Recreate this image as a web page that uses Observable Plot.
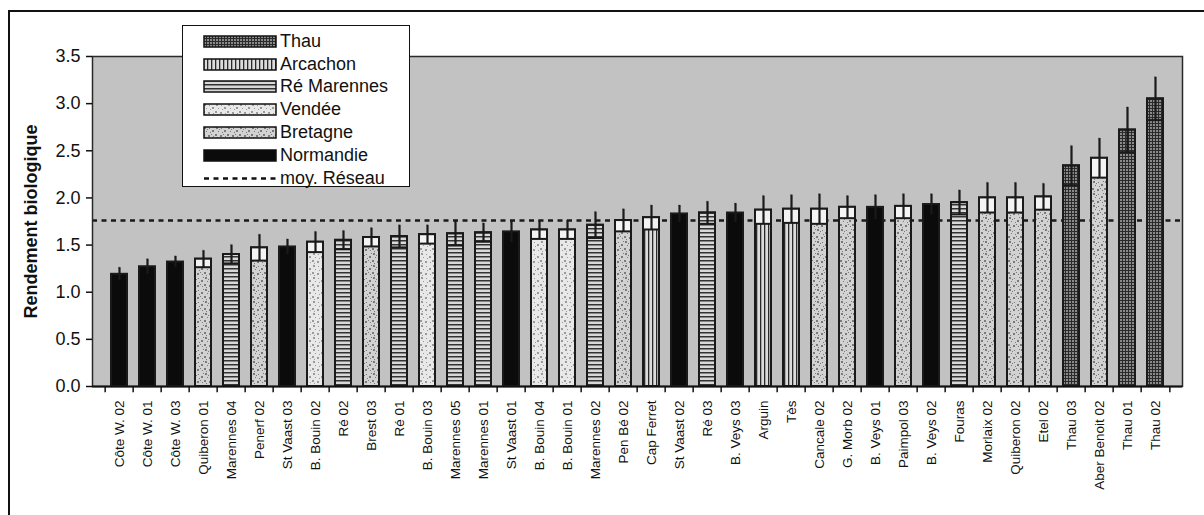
<!DOCTYPE html>
<html>
<head>
<meta charset="utf-8">
<script src="https://cdn.jsdelivr.net/npm/d3@7"></script>
<script src="https://cdn.jsdelivr.net/npm/@observablehq/plot@0.6"></script>
<style>
  html, body { margin: 0; padding: 0; background: #fff; overflow: hidden; }
  body { width: 1204px; height: 515px; position: relative; font-family: "Liberation Sans", Arial, sans-serif; }
  #frame { position: absolute; left: 8px; top: 10px; width: 1210px; height: 520px; border-left: 2px solid #111; border-top: 2px solid #111; box-sizing: border-box; pointer-events: none; }
  #chart { position: absolute; left: 0; top: 0; }
  #legend { position: absolute; left: 182px; top: 25px; width: 228px; height: 162px; box-sizing: border-box; background: #fff; border: 1.5px solid #111; padding: 4px 0 0 20px; }
  .lrow { display: flex; align-items: center; height: 22.8px; font-size: 18px; color: #111; white-space: nowrap; }
  .lrow svg { margin-right: 3px; flex: none; }
</style>
</head>
<body>
<div id="chart"></div>
<div id="legend"></div>
<div id="frame"></div>
<script>
const categories = ["Côte W. 02","Côte W. 01","Côte W. 03","Quiberon 01","Marennes 04","Penerf 02","St Vaast 03","B. Bouin 02","Ré 02","Brest 03","Ré 01","B. Bouin 03","Marennes 05","Marennes 01","St Vaast 01","B. Bouin 04","B. Bouin 01","Marennes 02","Pen Bé 02","Cap Ferret","St Vaast 02","Ré 03","B. Veys 03","Arguin","Tès","Cancale 02","G. Morb 02","B. Veys 01","Paimpol 03","B. Veys 02","Fouras","Morlaix 02","Quiberon 02","Etel 02","Thau 03","Aber Benoit 02","Thau 01","Thau 02"];
const regions = ["Normandie","Normandie","Normandie","Bretagne","Ré Marennes","Bretagne","Normandie","Vendée","Ré Marennes","Bretagne","Ré Marennes","Vendée","Ré Marennes","Ré Marennes","Normandie","Vendée","Vendée","Ré Marennes","Bretagne","Arcachon","Normandie","Ré Marennes","Normandie","Arcachon","Arcachon","Bretagne","Bretagne","Normandie","Bretagne","Normandie","Ré Marennes","Bretagne","Bretagne","Bretagne","Thau","Bretagne","Thau","Thau"];
const values = [1.19,1.27,1.32,1.35,1.40,1.47,1.48,1.53,1.55,1.58,1.59,1.61,1.62,1.63,1.64,1.66,1.66,1.71,1.76,1.79,1.83,1.84,1.84,1.87,1.88,1.88,1.90,1.90,1.91,1.93,1.95,2.00,2.00,2.01,2.34,2.42,2.72,3.05];
const errors = [0.07,0.08,0.06,0.09,0.10,0.14,0.08,0.11,0.10,0.10,0.12,0.10,0.13,0.10,0.11,0.10,0.10,0.14,0.12,0.13,0.09,0.12,0.10,0.15,0.15,0.16,0.12,0.13,0.13,0.11,0.13,0.16,0.16,0.14,0.21,0.21,0.24,0.23];
const legendRegions = ["Thau","Arcachon","Ré Marennes","Vendée","Bretagne","Normandie"];
const meanLabel = "moy. Réseau";
const meanValue = 1.76;
const yTicks = [0,0.5,1,1.5,2,2.5,3,3.5];
const yLabel = "Rendement biologique";

const patternId = {"Thau":"p-thau","Arcachon":"p-arc","Ré Marennes":"p-re","Vendée":"p-ven","Bretagne":"p-bre","Normandie":"p-nor"};
const boxFill = {"Thau":"none","Arcachon":"#f2f2f2","Ré Marennes":"none","Vendée":"#f4f4f4","Bretagne":"#f4f4f4","Normandie":"none"};
const rows = categories.map((c, i) => ({name: c, region: regions[i], v: values[i], e: errors[i]}));

const W = 1204, H = 515, ML = 92, MR = 22, MT = 56, MB = 129;
const step = (W - ML - MR) / categories.length;
const capInset = (step - 13) / 2;

const chart = Plot.plot({
  width: W, height: H,
  marginLeft: ML, marginRight: MR, marginTop: MT, marginBottom: MB,
  style: {fontFamily: "'Liberation Sans', Arial, sans-serif", color: "#111", background: "transparent"},
  x: {domain: categories, paddingInner: 0.43, paddingOuter: 0.215, label: null},
  y: {domain: [0, 3.5], label: null},
  color: {type: "identity"},
  marks: [
    Plot.frame({fill: "#c2c2c2", stroke: "none"}),
    Plot.ruleY([meanValue], {stroke: "#1a1a1a", strokeWidth: 2.6, strokeDasharray: "5,4.5"}),
    Plot.barY(rows, {x: "name", y1: 0, y2: "v", fill: d => `url(#${patternId[d.region]})`, stroke: "#1a1a1a", strokeWidth: 2}),
    Plot.barY(rows.filter(d => d.region !== "Normandie"), {x: "name", y1: d => d.v - d.e, y2: "v", fill: d => boxFill[d.region], stroke: "#1a1a1a", strokeWidth: 2}),
    Plot.ruleX(rows, {x: "name", y1: d => d.v - d.e, y2: d => d.v + d.e, stroke: "#1a1a1a", strokeWidth: 2.2}),
    Plot.tickY(rows, {x: "name", y: d => d.v + d.e, stroke: "#1a1a1a", strokeWidth: 2.4, insetLeft: capInset, insetRight: capInset}),
    Plot.frame({stroke: "#2a2a2a", strokeWidth: 1.5, fill: "none"}),
    Plot.ruleY([0], {stroke: "#111", strokeWidth: 2}),
    Plot.ruleX(categories, {x: d => d, y1: 0, y2: -0.065, dx: -step / 2, stroke: "#111", strokeWidth: 1.5}),
    Plot.ruleX([categories[categories.length - 1]], {x: d => d, y1: 0, y2: -0.065, dx: step / 2, stroke: "#111", strokeWidth: 1.5}),
    Plot.axisY({ticks: yTicks, tickFormat: d3.format(".1f"), tickSize: 6, tickPadding: 6, fontSize: 18, stroke: "#111", strokeWidth: 1.5, label: null}),
    Plot.axisY({ticks: [], tickSize: 0, label: yLabel, labelAnchor: "center", labelOffset: 68, labelArrow: "none", fontSize: 18, fontWeight: "bold"}),
    Plot.ruleX([0], {frameAnchor: "left", stroke: "#111", strokeWidth: 2}),
    Plot.axisX({tickSize: 0, tickPadding: 14, tickRotate: -90, fontSize: 13.5, label: null})
  ]
});

// patterns
const defs = d3.select(chart).insert("defs", ":first-child");
function pat(id, w, h) {
  return defs.append("pattern").attr("id", id).attr("patternUnits", "userSpaceOnUse").attr("width", w).attr("height", h);
}
pat("p-nor", 4, 4).append("rect").attr("width", 4).attr("height", 4).attr("fill", "#0b0b0b");
{
  const p = pat("p-thau", 3, 3);
  p.append("rect").attr("width", 3).attr("height", 3).attr("fill", "#8a8a8a");
  p.append("rect").attr("width", 3).attr("height", 1).attr("fill", "#2a2a2a");
  p.append("rect").attr("width", 1).attr("height", 3).attr("fill", "#2a2a2a");
}
{
  const p = pat("p-arc", 4, 4);
  p.append("rect").attr("width", 4).attr("height", 4).attr("fill", "#dcdcdc");
  p.append("rect").attr("width", 1.3).attr("height", 4).attr("fill", "#2a2a2a");
}
{
  const p = pat("p-re", 4, 4);
  p.append("rect").attr("width", 4).attr("height", 4).attr("fill", "#d8d8d8");
  p.append("rect").attr("width", 4).attr("height", 1.5).attr("fill", "#333");
}
function speckle(id, bg, dot, dots) {
  const p = pat(id, 12, 12);
  p.append("rect").attr("width", 12).attr("height", 12).attr("fill", bg);
  dots.forEach(([x, y, s]) => p.append("rect").attr("x", x).attr("y", y).attr("width", s).attr("height", s).attr("fill", dot));
}
const dotsA = [[1,1,2],[6,2,1],[9,4,2],[3,5,1],[0,8,2],[5,9,2],[10,10,1],[7,6,1],[2,11,1]];
speckle("p-ven", "#e8e8e8", "#9a9a9a", dotsA);
speckle("p-bre", "#d2d2d2", "#7a7a7a", dotsA.concat([[4,3,1],[8,8,1],[11,1,1]]));

document.getElementById("chart").appendChild(chart);

// legend
const legend = d3.select("#legend");
legendRegions.forEach(r => {
  const row = legend.append("div").attr("class", "lrow");
  const s = row.append("svg").attr("width", 74).attr("height", 13);
  s.append("rect").attr("x", 1).attr("y", 1).attr("width", 72).attr("height", 11).attr("fill", `url(#${patternId[r]})`).attr("stroke", "#111").attr("stroke-width", 1.5);
  row.append("span").text(r);
});
{
  const row = legend.append("div").attr("class", "lrow");
  const s = row.append("svg").attr("width", 74).attr("height", 13);
  s.append("line").attr("x1", 1).attr("x2", 74).attr("y1", 6.5).attr("y2", 6.5).attr("stroke", "#111").attr("stroke-width", 2.6).attr("stroke-dasharray", "5,4.5");
  row.append("span").text(meanLabel);
}
</script>
</body>
</html>
